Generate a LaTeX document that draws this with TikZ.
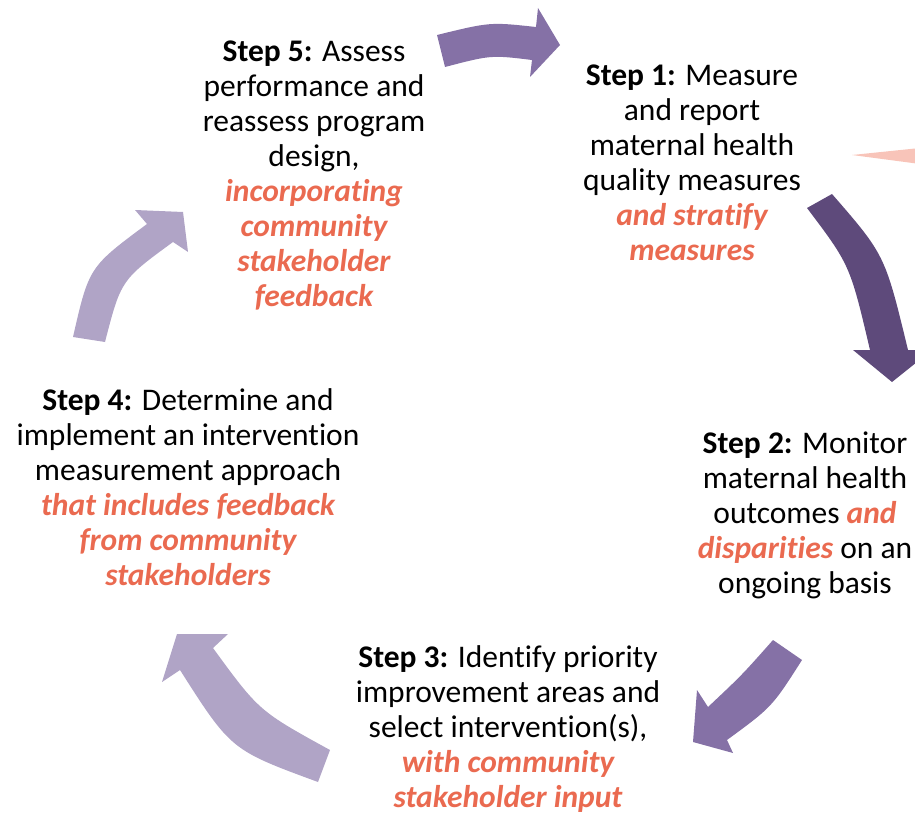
\documentclass[tikz,border=0pt]{standalone}
\usepackage{fontspec}
\setmainfont{Carlito}[Ligatures={NoCommon}]

\definecolor{hilite}{HTML}{EA6A50}
\definecolor{arrowmid}{HTML}{8571A6}
\definecolor{arrowdark}{HTML}{5E4A7B}
\definecolor{arrowlight}{HTML}{B0A4C6}
\definecolor{wedge}{HTML}{F8C4B9}

\tikzset{steptext/.style={align=center, inner sep=0pt,
  font=\fontsize{31.5}{35}\selectfont}}
\newcommand{\stepno}[1]{\textbf{Step #1:}}
\newcommand{\extra}[1]{\textcolor{hilite}{\bfseries\itshape #1}}

\begin{document}
\begin{tikzpicture}[x=1pt, y=-1pt]
      \clip (0, 0) rectangle (915, 813);

      % the five steps
      \node [steptext] (step5) at (314, 176) {\stepno{5} Assess\\performance and\\reassess program\\design,\\
        \extra{incorporating}\\\extra{community}\\\extra{stakeholder}\\\extra{feedback}};
      \node [steptext] (step1) at (692, 163) {\stepno{1} Measure\\and report\\maternal health\\quality measures\\
        \extra{and stratify}\\\extra{measures}};
      \node [steptext] (step2) at (805, 515) {\stepno{2} Monitor\\maternal health\\outcomes \extra{and}\\
        \extra{disparities} on an\\ongoing basis};
      \node [steptext] (step3) at (508, 729) {\stepno{3} Identify priority\\improvement areas and\\select intervention(s),\\
        \extra{with community}\\\extra{stakeholder input}};
      \node [steptext] (step4) at (188, 487) {\stepno{4} Determine and\\implement an intervention\\measurement approach\\
        \extra{that includes feedback}\\\extra{from community}\\\extra{stakeholders}};

      % curved block arrows round the cycle
      \fill [arrowmid] (437, 35) .. controls (490, 22) .. (536, 27) -- (538, 8) -- (560, 45)
        -- (530, 77) -- (532, 60) .. controls (491, 55) .. (445, 67) -- cycle;
      \fill [arrowdark] (832, 194) .. controls (885, 255) .. (908, 350) -- (932, 350) -- (892, 382)
        -- (853, 350) -- (870, 350) .. controls (850, 265) .. (807, 208) -- cycle;
      \fill [arrowmid] (773, 640) .. controls (742, 675) .. (708, 707) -- (697, 690) -- (693, 742)
        -- (733, 753) -- (727, 740) .. controls (772, 707) .. (802, 660) -- cycle;
      \fill [arrowlight] (330, 750) .. controls (259, 711) .. (213, 648) -- (228, 634) -- (177, 634)
        -- (162, 682) -- (180, 670) .. controls (231, 750) .. (318, 782) -- cycle;
      \fill [arrowlight] (73, 337) .. controls (89, 267) .. (147, 224) -- (135, 210) -- (183, 212)
        -- (188, 252) -- (173, 242) .. controls (121, 280) .. (105, 342) -- cycle;

      % edge of the next shape
      \fill [wedge] (852, 155) -- (920, 148) -- (920, 164) -- cycle;
\end{tikzpicture}
\end{document}
